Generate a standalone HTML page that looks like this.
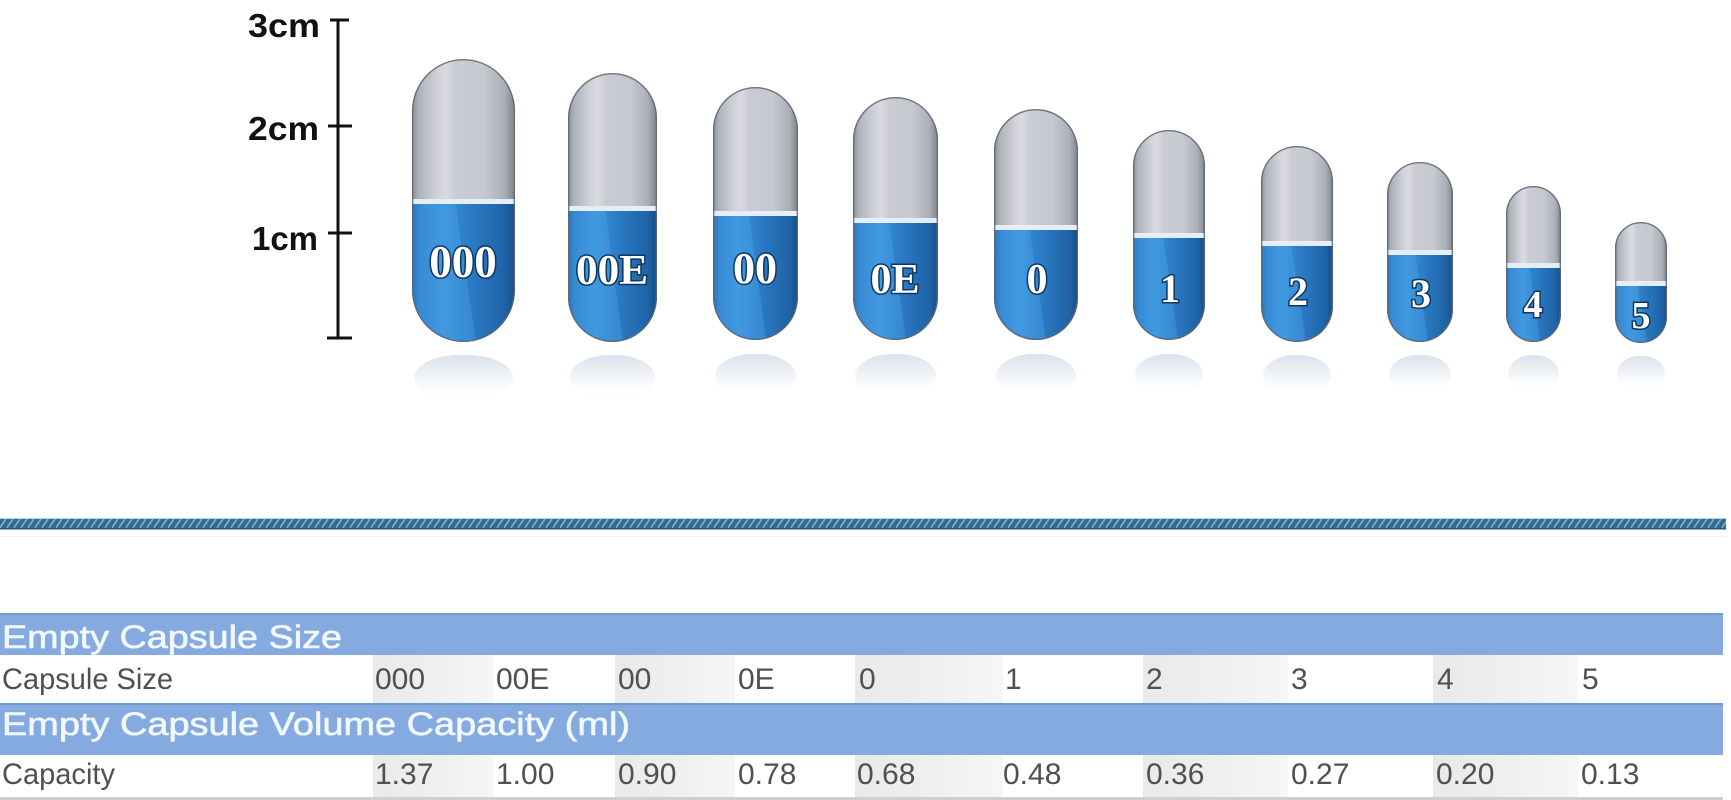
<!DOCTYPE html>
<html><head><meta charset="utf-8"><style>
html,body{margin:0;padding:0;background:#fff;}
svg{display:block;}
</style></head><body>
<svg width="1731" height="800" viewBox="0 0 1731 800" xmlns="http://www.w3.org/2000/svg">
<defs>
<linearGradient id="grey" x1="0" y1="0" x2="1" y2="0">
<stop offset="0" stop-color="#8c9099"/><stop offset="0.07" stop-color="#aeb2ba"/><stop offset="0.25" stop-color="#cfd2d8"/><stop offset="0.33" stop-color="#d9dbe0"/><stop offset="0.42" stop-color="#c9ccd3"/><stop offset="0.7" stop-color="#c6c9cf"/><stop offset="0.9" stop-color="#aaaeb6"/><stop offset="1" stop-color="#7e828b"/>
</linearGradient>
<linearGradient id="blue" x1="0" y1="0" x2="1" y2="0">
<stop offset="0" stop-color="#1d5c9b"/><stop offset="0.08" stop-color="#2b7ccb"/><stop offset="0.3" stop-color="#3890da"/><stop offset="0.6" stop-color="#2a78c2"/><stop offset="0.9" stop-color="#1f63a6"/><stop offset="1" stop-color="#164c84"/>
</linearGradient>
<linearGradient id="refl" x1="0" y1="0" x2="0" y2="1">
<stop offset="0" stop-color="#d3dce8" stop-opacity="0.85"/><stop offset="0.5" stop-color="#e6ebf1" stop-opacity="0.55"/><stop offset="1" stop-color="#ffffff" stop-opacity="0"/>
</linearGradient>
<linearGradient id="cell" x1="0" y1="0" x2="1" y2="0">
<stop offset="0" stop-color="#e9e9e9"/><stop offset="1" stop-color="#f6f6f6"/>
</linearGradient>
<pattern id="rope" patternUnits="userSpaceOnUse" x="0" y="519" width="7" height="10">
<rect width="7" height="10" fill="#336a8e"/>
<path d="M-1,10 L6,0 M6,11 L13,1" stroke="#7fb0cf" stroke-width="1.6"/>
</pattern>
<clipPath id="c0"><rect x="412" y="59" width="103" height="283" rx="51.5" ry="52"/></clipPath>
<clipPath id="c1"><rect x="568" y="73" width="89" height="269" rx="44.5" ry="45"/></clipPath>
<clipPath id="c2"><rect x="713" y="87" width="85" height="253" rx="42.5" ry="43"/></clipPath>
<clipPath id="c3"><rect x="853" y="97" width="85" height="243" rx="42.5" ry="43"/></clipPath>
<clipPath id="c4"><rect x="994" y="109" width="84" height="231" rx="42" ry="42"/></clipPath>
<clipPath id="c5"><rect x="1133" y="130" width="72" height="210" rx="36" ry="36"/></clipPath>
<clipPath id="c6"><rect x="1261" y="146" width="72" height="196" rx="36" ry="36"/></clipPath>
<clipPath id="c7"><rect x="1387" y="162" width="66" height="180" rx="33" ry="33"/></clipPath>
<clipPath id="c8"><rect x="1506" y="186" width="55" height="156" rx="27.5" ry="28"/></clipPath>
<clipPath id="c9"><rect x="1615" y="222" width="52" height="121" rx="26" ry="26"/></clipPath>
</defs>

<rect width="1731" height="800" fill="#ffffff"/>

<!-- scale -->
<g fill="#111" font-family="Liberation Sans, sans-serif" font-weight="bold" font-size="33">
<text x="248" y="37" textLength="72" lengthAdjust="spacingAndGlyphs">3cm</text>
<text x="248" y="140" textLength="71" lengthAdjust="spacingAndGlyphs">2cm</text>
<text x="252" y="250" textLength="66" lengthAdjust="spacingAndGlyphs">1cm</text>
</g>
<g stroke="#111" stroke-width="3">
<line x1="338" y1="19" x2="338" y2="339"/>
<line x1="330" y1="20" x2="349" y2="20"/>
<line x1="328" y1="126" x2="352" y2="126"/>
<line x1="328" y1="233" x2="352" y2="233"/>
<line x1="327" y1="338" x2="352" y2="338"/>
</g>

<!-- reflections -->
<g fill="url(#refl)">
<rect x="414" y="355" width="99" height="46" rx="45"/>
<rect x="570" y="355" width="85" height="44" rx="40"/>
<rect x="715" y="354" width="81" height="44" rx="38"/>
<rect x="855" y="354" width="81" height="44" rx="38"/>
<rect x="996" y="354" width="80" height="44" rx="38"/>
<rect x="1135" y="354" width="68" height="42" rx="32"/>
<rect x="1263" y="355" width="68" height="42" rx="32"/>
<rect x="1389" y="355" width="62" height="40" rx="29"/>
<rect x="1508" y="355" width="51" height="38" rx="24"/>
<rect x="1617" y="356" width="48" height="36" rx="22"/>
</g>

<!-- capsules -->
<g font-family="Liberation Serif, serif" font-weight="bold" fill="#ffffff" stroke="#0f3760" stroke-width="3" paint-order="stroke" text-anchor="middle">

<g clip-path="url(#c0)">
<rect x="412" y="59" width="103" height="142" fill="url(#grey)" stroke="none"/>
<rect x="412" y="201" width="103" height="141" fill="url(#blue)" stroke="none"/>
<polygon points="412,201 455,201 476,342 412,342" fill="#55aef0" opacity="0.3" stroke="none"/>
<rect x="412" y="199" width="103" height="5" fill="#e5edf6" stroke="none"/>
</g>
<rect x="412.7" y="59.7" width="101.6" height="281.6" rx="50.8" ry="51" fill="none" stroke="#5f6670" stroke-width="1.4" opacity="0.85"/>
<text x="463" y="277" font-size="45">000</text>

<g clip-path="url(#c1)">
<rect x="568" y="73" width="89" height="135" fill="url(#grey)" stroke="none"/>
<rect x="568" y="208" width="89" height="134" fill="url(#blue)" stroke="none"/>
<polygon points="568,208 605,208 623,342 568,342" fill="#55aef0" opacity="0.3" stroke="none"/>
<rect x="568" y="206" width="89" height="5" fill="#e5edf6" stroke="none"/>
</g>
<rect x="568.7" y="73.7" width="87.6" height="267.6" rx="43.8" ry="44" fill="none" stroke="#5f6670" stroke-width="1.4" opacity="0.85"/>
<text x="612" y="284" font-size="42" textLength="72" lengthAdjust="spacingAndGlyphs">00E</text>

<g clip-path="url(#c2)">
<rect x="713" y="87" width="85" height="126" fill="url(#grey)" stroke="none"/>
<rect x="713" y="213" width="85" height="127" fill="url(#blue)" stroke="none"/>
<polygon points="713,213 749,213 766,340 713,340" fill="#55aef0" opacity="0.3" stroke="none"/>
<rect x="713" y="211" width="85" height="5" fill="#e5edf6" stroke="none"/>
</g>
<rect x="713.7" y="87.7" width="83.6" height="251.6" rx="41.8" ry="42" fill="none" stroke="#5f6670" stroke-width="1.4" opacity="0.85"/>
<text x="755" y="283" font-size="44">00</text>

<g clip-path="url(#c3)">
<rect x="853" y="97" width="85" height="123" fill="url(#grey)" stroke="none"/>
<rect x="853" y="220" width="85" height="120" fill="url(#blue)" stroke="none"/>
<polygon points="853,220 889,220 906,340 853,340" fill="#55aef0" opacity="0.3" stroke="none"/>
<rect x="853" y="218" width="85" height="5" fill="#e5edf6" stroke="none"/>
</g>
<rect x="853.7" y="97.7" width="83.6" height="241.6" rx="41.8" ry="42" fill="none" stroke="#5f6670" stroke-width="1.4" opacity="0.85"/>
<text x="895" y="293" font-size="42">0E</text>

<g clip-path="url(#c4)">
<rect x="994" y="109" width="84" height="118" fill="url(#grey)" stroke="none"/>
<rect x="994" y="227" width="84" height="113" fill="url(#blue)" stroke="none"/>
<polygon points="994,227 1029,227 1046,340 994,340" fill="#55aef0" opacity="0.3" stroke="none"/>
<rect x="994" y="225" width="84" height="5" fill="#e5edf6" stroke="none"/>
</g>
<rect x="994.7" y="109.7" width="82.6" height="229.6" rx="41.3" ry="41" fill="none" stroke="#5f6670" stroke-width="1.4" opacity="0.85"/>
<text x="1037" y="293" font-size="42">0</text>

<g clip-path="url(#c5)">
<rect x="1133" y="130" width="72" height="105" fill="url(#grey)" stroke="none"/>
<rect x="1133" y="235" width="72" height="105" fill="url(#blue)" stroke="none"/>
<polygon points="1133,235 1163,235 1178,340 1133,340" fill="#55aef0" opacity="0.3" stroke="none"/>
<rect x="1133" y="233" width="72" height="5" fill="#e5edf6" stroke="none"/>
</g>
<rect x="1133.7" y="130.7" width="70.6" height="208.6" rx="35.3" ry="35" fill="none" stroke="#5f6670" stroke-width="1.4" opacity="0.85"/>
<text x="1170" y="302" font-size="40">1</text>

<g clip-path="url(#c6)">
<rect x="1261" y="146" width="72" height="97" fill="url(#grey)" stroke="none"/>
<rect x="1261" y="243" width="72" height="99" fill="url(#blue)" stroke="none"/>
<polygon points="1261,243 1291,243 1306,342 1261,342" fill="#55aef0" opacity="0.3" stroke="none"/>
<rect x="1261" y="241" width="72" height="5" fill="#e5edf6" stroke="none"/>
</g>
<rect x="1261.7" y="146.7" width="70.6" height="194.6" rx="35.3" ry="35" fill="none" stroke="#5f6670" stroke-width="1.4" opacity="0.85"/>
<text x="1298" y="305" font-size="40">2</text>

<g clip-path="url(#c7)">
<rect x="1387" y="162" width="66" height="90" fill="url(#grey)" stroke="none"/>
<rect x="1387" y="252" width="66" height="90" fill="url(#blue)" stroke="none"/>
<polygon points="1387,252 1415,252 1428,342 1387,342" fill="#55aef0" opacity="0.3" stroke="none"/>
<rect x="1387" y="250" width="66" height="5" fill="#e5edf6" stroke="none"/>
</g>
<rect x="1387.7" y="162.7" width="64.6" height="178.6" rx="32.3" ry="32" fill="none" stroke="#5f6670" stroke-width="1.4" opacity="0.85"/>
<text x="1421" y="307" font-size="40">3</text>

<g clip-path="url(#c8)">
<rect x="1506" y="186" width="55" height="79" fill="url(#grey)" stroke="none"/>
<rect x="1506" y="265" width="55" height="77" fill="url(#blue)" stroke="none"/>
<polygon points="1506,265 1529,265 1540,342 1506,342" fill="#55aef0" opacity="0.3" stroke="none"/>
<rect x="1506" y="263" width="55" height="5" fill="#e5edf6" stroke="none"/>
</g>
<rect x="1506.7" y="186.7" width="53.6" height="154.6" rx="26.8" ry="27" fill="none" stroke="#5f6670" stroke-width="1.4" opacity="0.85"/>
<text x="1533" y="317" font-size="38">4</text>

<g clip-path="url(#c9)">
<rect x="1615" y="222" width="52" height="61" fill="url(#grey)" stroke="none"/>
<rect x="1615" y="283" width="52" height="60" fill="url(#blue)" stroke="none"/>
<polygon points="1615,283 1637,283 1647,343 1615,343" fill="#55aef0" opacity="0.3" stroke="none"/>
<rect x="1615" y="281" width="52" height="5" fill="#e5edf6" stroke="none"/>
</g>
<rect x="1615.7" y="222.7" width="50.6" height="119.6" rx="25.3" ry="25" fill="none" stroke="#5f6670" stroke-width="1.4" opacity="0.85"/>
<text x="1641" y="328" font-size="38">5</text>
</g>

<!-- rope divider -->
<rect x="0" y="518" width="1726" height="1.5" fill="#b8d2e2"/>
<rect x="0" y="519" width="1726" height="10" fill="url(#rope)"/>
<rect x="0" y="528" width="1726" height="1.5" fill="#2a5a7a"/>
<rect x="0" y="536" width="1726" height="1" fill="#eef2f6"/>

<!-- table -->
<rect x="0" y="613" width="1723" height="42" fill="#84aae0"/>
<rect x="0" y="613" width="1723" height="2" fill="#7099cc"/>
<rect x="0" y="703" width="1723" height="52" fill="#84aae0"/>
<rect x="0" y="703" width="1723" height="2" fill="#7099cc"/>

<g fill="url(#cell)">
<rect x="373" y="655" width="120" height="48"/>
<rect x="615" y="655" width="120" height="48"/>
<rect x="855" y="655" width="148" height="48"/>
<rect x="1143" y="655" width="145" height="48"/>
<rect x="1433" y="655" width="145" height="48"/>
<rect x="373" y="755" width="120" height="42"/>
<rect x="615" y="755" width="120" height="42"/>
<rect x="855" y="755" width="148" height="42"/>
<rect x="1143" y="755" width="145" height="42"/>
<rect x="1433" y="755" width="145" height="42"/>
</g>
<rect x="0" y="797" width="1723" height="3" fill="#cfcfcf"/>

<g font-family="Liberation Sans, sans-serif" fill="#f2f8ff" stroke="#f2f8ff" stroke-width="0.6" font-size="32">
<text x="2" y="648" textLength="340" lengthAdjust="spacingAndGlyphs">Empty Capsule Size</text>
<text x="2" y="735" textLength="628" lengthAdjust="spacingAndGlyphs">Empty Capsule Volume Capacity (ml)</text>
</g>

<g font-family="Liberation Sans, sans-serif" fill="#505050" font-size="30">
<text x="2" y="689" textLength="171" lengthAdjust="spacingAndGlyphs">Capsule Size</text>
<text x="375" y="689">000</text>
<text x="496" y="689">00E</text>
<text x="618" y="689">00</text>
<text x="738" y="689">0E</text>
<text x="859" y="689">0</text>
<text x="1005" y="689">1</text>
<text x="1146" y="689">2</text>
<text x="1291" y="689">3</text>
<text x="1437" y="689">4</text>
<text x="1582" y="689">5</text>

<text x="2" y="784" textLength="113" lengthAdjust="spacingAndGlyphs">Capacity</text>
<text x="375" y="784">1.37</text>
<text x="496" y="784">1.00</text>
<text x="618" y="784">0.90</text>
<text x="738" y="784">0.78</text>
<text x="857" y="784">0.68</text>
<text x="1003" y="784">0.48</text>
<text x="1146" y="784">0.36</text>
<text x="1291" y="784">0.27</text>
<text x="1436" y="784">0.20</text>
<text x="1581" y="784">0.13</text>
</g>
</svg>
</body></html>
